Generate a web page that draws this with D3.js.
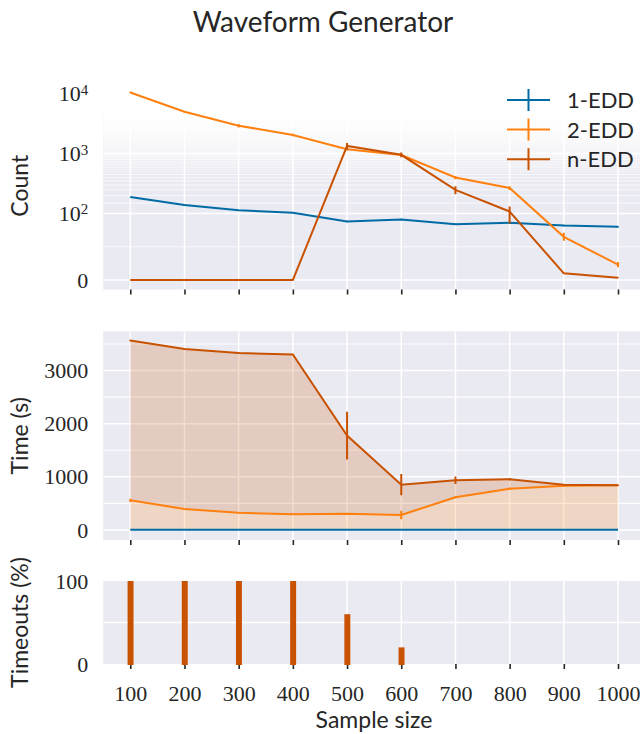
<!DOCTYPE html>
<html>
<head>
<meta charset="utf-8">
<script src="https://cdn.jsdelivr.net/npm/d3@7"></script>
<style>
  html, body { margin: 0; padding: 0; background: #ffffff; }
  svg { display: block; }
</style>
</head>
<body>
<svg id="chart" width="640" height="734"></svg>
<script>
// ---------------- data ----------------
const sampleSizes = [100, 200, 300, 400, 500, 600, 700, 800, 900, 1000];
const seriesNames = ["1-EDD", "2-EDD", "n-EDD"];

const count1 = [189, 139, 114, 103, 88, 91, 84, 86, 82, 80];
const count2 = [10600, 5050, 2950, 2060, 1190, 950, 400, 267, 65, 23];
const countN = [0, 0, 0, 0, 1350, 960, 248, 108, 10, 3.5];
const count1Err = [1, 1, 1, 1, 1, 1, 1, 1, 1, 1];
const count2Err = [250, 150, 200, 100, 60, 50, 25, 20, 6, 4];
const countNErr = [0, 0, 0, 0, 170, 90, 38, 23, 1, 0.5];

const time1 = [3, 3, 3, 3, 3, 3, 3, 3, 3, 3];
const time2 = [559, 395, 326, 296, 307, 282, 616, 778, 834, 842];
const timeN = [3565, 3403, 3328, 3302, 1776, 853, 936, 955, 853, 842];
const time1Err = [0, 0, 0, 0, 0, 0, 0, 0, 0, 0];
const time2Err = [30, 10, 10, 10, 10, 80, 20, 20, 10, 10];
const timeNErr = [15, 10, 10, 10, 450, 200, 70, 25, 10, 10];

const timeouts1 = [0, 0, 0, 0, 0, 0, 0, 0, 0, 0];
const timeouts2 = [0, 0, 0, 0, 0, 0, 0, 0, 0, 0];
const timeoutsN = [100, 100, 100, 100, 60, 20, 0, 0, 0, 0];

const countTicks = [0, 100, 1000, 10000];
const timeTicks = [0, 1000, 2000, 3000];
const timeMinorTicks = [500, 1500, 2500, 3500];
const timeoutTicks = [0, 100];
const timeoutMinorTicks = [50];

// ---------------- style ----------------
const colors = ["#006BA4", "#FF800E", "#C85200"];
const BG = "#EAEAF2";
const SANS = "Lato, 'DejaVu Sans', sans-serif";
const SERIF = "'Liberation Serif', 'DejaVu Serif', serif";

const svg = d3.select("#chart");

// symlog transform (base 10, linthresh 100, linscale 1) as in matplotlib
const LT = 100, LS = 1 / (1 - 1 / 10);
function symlog(v) {
  const a = Math.abs(v), s = Math.sign(v);
  return a <= LT ? s * a * LS : s * LT * (LS + Math.log10(a / LT));
}

const x = d3.scaleLinear().domain([50, 1050]).range([103.2, 645.1]);

const panels = {
  count: { top: 82, bottom: 289.5 },
  time: { top: 331.5, bottom: 540 },
  tout: { top: 581, bottom: 664 }
};

const yCount = d3.scaleLinear().domain([-15.9, 331.1]).range([panels.count.bottom, panels.count.top]);
const yTime = d3.scaleLinear().domain([-188, 3734]).range([panels.time.bottom, panels.time.top]);
const yTout = d3.scaleLinear().domain([0, 100]).range([panels.tout.bottom, panels.tout.top]);

// title
svg.append("text")
  .attr("x", 323).attr("y", 32)
  .attr("text-anchor", "middle")
  .style("font-family", SANS).style("font-size", "28px").style("fill", "#262626")
  .text("Waveform Generator");

function makePanel(key, id) {
  const p = panels[key];
  const g = svg.append("g");
  const x0 = x.range()[0], x1 = x.range()[1];
  g.append("clipPath").attr("id", id)
    .append("rect").attr("x", x0).attr("y", p.top).attr("width", x1 - x0).attr("height", p.bottom - p.top);
  g.append("rect").attr("x", x0).attr("y", p.top).attr("width", x1 - x0).attr("height", p.bottom - p.top).attr("fill", BG);
  const inner = g.append("g").attr("clip-path", `url(#${id})`);
  const grid = inner.append("g");
  // x ticks below panel
  const ax = g.append("g").attr("transform", `translate(0,${p.bottom})`)
    .call(d3.axisBottom(x).tickValues(sampleSizes).tickSize(5).tickPadding(16).tickFormat(""));
  ax.select(".domain").remove();
  ax.selectAll(".tick line").attr("stroke", "#262626").attr("stroke-width", 1.6);
  return { g, inner, grid, ax };
}
function verticalGrid(P, key) {
  const p = panels[key];
  P.grid.selectAll("line.vg").data(sampleSizes).enter().append("line")
    .attr("x1", d => x(d)).attr("x2", d => x(d))
    .attr("y1", p.top).attr("y2", p.bottom)
    .attr("stroke", "#ffffff").attr("stroke-width", 1.5);
}

// ---------------- panel 1: Count ----------------
const P1 = makePanel("count", "clip1");
const minorCount = d3.range(50, 20000, 50).filter(v => !countTicks.includes(v));
P1.grid.selectAll("line.minor").data(minorCount).enter().append("line")
  .attr("x1", x.range()[0]).attr("x2", x.range()[1])
  .attr("y1", d => yCount(symlog(d))).attr("y2", d => yCount(symlog(d)))
  .attr("stroke", "#ffffff").attr("stroke-width", 0.9).attr("stroke-opacity", 0.8);
verticalGrid(P1, "count");
P1.grid.selectAll("line.major").data(countTicks).enter().append("line")
  .attr("x1", x.range()[0]).attr("x2", x.range()[1])
  .attr("y1", d => yCount(symlog(d))).attr("y2", d => yCount(symlog(d)))
  .attr("stroke", "#ffffff").attr("stroke-width", 1.5);

const countSeries = [
  { v: count1, e: count1Err },
  { v: count2, e: count2Err },
  { v: countN, e: countNErr }
];
countSeries.forEach((s, i) => {
  const pts = sampleSizes.map((xx, j) => ({ x: xx, y: s.v[j], e: s.e[j] }));
  P1.inner.append("path").datum(pts)
    .attr("fill", "none").attr("stroke", colors[i]).attr("stroke-width", 2)
    .attr("d", d3.line().x(d => x(d.x)).y(d => yCount(symlog(d.y))));
  P1.inner.selectAll(null).data(pts.filter(d => d.e > 0)).enter().append("line")
    .attr("x1", d => x(d.x)).attr("x2", d => x(d.x))
    .attr("y1", d => yCount(symlog(d.y - d.e))).attr("y2", d => yCount(symlog(d.y + d.e)))
    .attr("stroke", colors[i]).attr("stroke-width", 2);
});

// y axis labels (count) with superscripts
const ayc = svg.append("g").attr("transform", `translate(${x.range()[0]},0)`)
  .call(d3.axisLeft(yCount).tickValues(countTicks.map(symlog)).tickSize(0).tickPadding(15).tickFormat(""));
ayc.select(".domain").remove();
ayc.selectAll(".tick text").each(function (d, i) {
  const t = d3.select(this);
  const v = countTicks[i];
  t.style("font-family", SERIF).style("font-size", "22px").attr("fill", "#262626");
  if (v === 0) { t.text("0"); }
  else {
    const k = Math.round(Math.log10(v));
    t.append("tspan").text("10");
    t.append("tspan").attr("dy", "-0.45em").style("font-size", "15px").text(String(k));
  }
});

// legend
const legend = svg.append("g");
seriesNames.forEach((name, i) => {
  const ly = 100 + i * 29.6;
  legend.append("line").attr("x1", 507).attr("x2", 550).attr("y1", ly).attr("y2", ly)
    .attr("stroke", colors[i]).attr("stroke-width", 2);
  legend.append("line").attr("x1", 528.5).attr("x2", 528.5).attr("y1", ly - 11).attr("y2", ly + 11)
    .attr("stroke", colors[i]).attr("stroke-width", 2);
  legend.append("text").attr("x", 567).attr("y", ly).attr("dy", "0.36em")
    .style("font-family", SANS).style("font-size", "22px").attr("fill", "#262626")
    .text(name);
});

// ---------------- panel 2: Time ----------------
const P2 = makePanel("time", "clip2");
verticalGrid(P2, "time");
P2.grid.selectAll("line.minor").data(timeMinorTicks).enter().append("line")
  .attr("x1", x.range()[0]).attr("x2", x.range()[1])
  .attr("y1", d => yTime(d)).attr("y2", d => yTime(d))
  .attr("stroke", "#ffffff").attr("stroke-width", 1.1);
P2.grid.selectAll("line.major").data(timeTicks).enter().append("line")
  .attr("x1", x.range()[0]).attr("x2", x.range()[1])
  .attr("y1", d => yTime(d)).attr("y2", d => yTime(d))
  .attr("stroke", "#ffffff").attr("stroke-width", 1.5);

const timeSeries = [
  { v: time1, e: time1Err },
  { v: time2, e: time2Err },
  { v: timeN, e: timeNErr }
];
// fills between consecutive series
timeSeries.forEach((s, i) => {
  const lower = i === 0 ? sampleSizes.map(() => 0) : timeSeries[i - 1].v;
  const pts = sampleSizes.map((xx, j) => ({ x: xx, lo: lower[j], hi: s.v[j] }));
  P2.inner.append("path").datum(pts)
    .attr("fill", colors[i]).attr("fill-opacity", 0.2)
    .attr("d", d3.area().x(d => x(d.x)).y0(d => yTime(d.lo)).y1(d => yTime(d.hi)));
});
timeSeries.forEach((s, i) => {
  const pts = sampleSizes.map((xx, j) => ({ x: xx, y: s.v[j], e: s.e[j] }));
  P2.inner.append("path").datum(pts)
    .attr("fill", "none").attr("stroke", colors[i]).attr("stroke-width", 2)
    .attr("d", d3.line().x(d => x(d.x)).y(d => yTime(d.y)));
  P2.inner.selectAll(null).data(pts.filter(d => d.e > 0)).enter().append("line")
    .attr("x1", d => x(d.x)).attr("x2", d => x(d.x))
    .attr("y1", d => yTime(d.y - d.e)).attr("y2", d => yTime(d.y + d.e))
    .attr("stroke", colors[i]).attr("stroke-width", 2);
});
const ayt = svg.append("g").attr("transform", `translate(${x.range()[0]},0)`)
  .call(d3.axisLeft(yTime).tickValues(timeTicks).tickSize(0).tickPadding(15).tickFormat(d3.format("d")));
ayt.select(".domain").remove();
ayt.selectAll(".tick text").style("font-family", SERIF).style("font-size", "22px").attr("fill", "#262626");

// ---------------- panel 3: Timeouts ----------------
const P3 = makePanel("tout", "clip3");
verticalGrid(P3, "tout");
P3.grid.selectAll("line.minor").data(timeoutMinorTicks).enter().append("line")
  .attr("x1", x.range()[0]).attr("x2", x.range()[1])
  .attr("y1", d => yTout(d)).attr("y2", d => yTout(d))
  .attr("stroke", "#ffffff").attr("stroke-width", 1.5);
[timeouts1, timeouts2, timeoutsN].forEach((arr, i) => {
  svg.append("g").selectAll("rect").data(sampleSizes.map((xx, j) => ({ x: xx, y: arr[j] })).filter(d => d.y > 0))
    .enter().append("rect")
    .attr("x", d => x(d.x - 5)).attr("width", d => x(d.x + 6) - x(d.x - 5))
    .attr("y", d => yTout(d.y)).attr("height", d => yTout(0) - yTout(d.y) + 1)
    .attr("fill", colors[i]);
});
const ayo = svg.append("g").attr("transform", `translate(${x.range()[0]},0)`)
  .call(d3.axisLeft(yTout).tickValues(timeoutTicks).tickSize(0).tickPadding(15).tickFormat(d3.format("d")));
ayo.select(".domain").remove();
ayo.selectAll(".tick text").style("font-family", SERIF).style("font-size", "22px").attr("fill", "#262626");

// x tick labels on the bottom panel
P3.ax.selectAll(".tick text")
  .text(d => String(d))
  .style("font-family", SERIF).style("font-size", "22px").attr("fill", "#262626");

// axis titles
function yTitle(text, cy) {
  svg.append("text").attr("transform", `translate(20,${cy}) rotate(-90)`)
    .attr("text-anchor", "middle").attr("dy", "0.35em")
    .style("font-family", SANS).style("font-size", "23px").attr("fill", "#262626")
    .text(text);
}
yTitle("Count", (panels.count.top + panels.count.bottom) / 2);
yTitle("Time (s)", (panels.time.top + panels.time.bottom) / 2);
yTitle("Timeouts (%)", (panels.tout.top + panels.tout.bottom) / 2);

svg.append("text").attr("x", 374).attr("y", 728)
  .attr("text-anchor", "middle")
  .style("font-family", SANS).style("font-size", "23px").attr("fill", "#262626")
  .text("Sample size");
</script>
</body>
</html>
